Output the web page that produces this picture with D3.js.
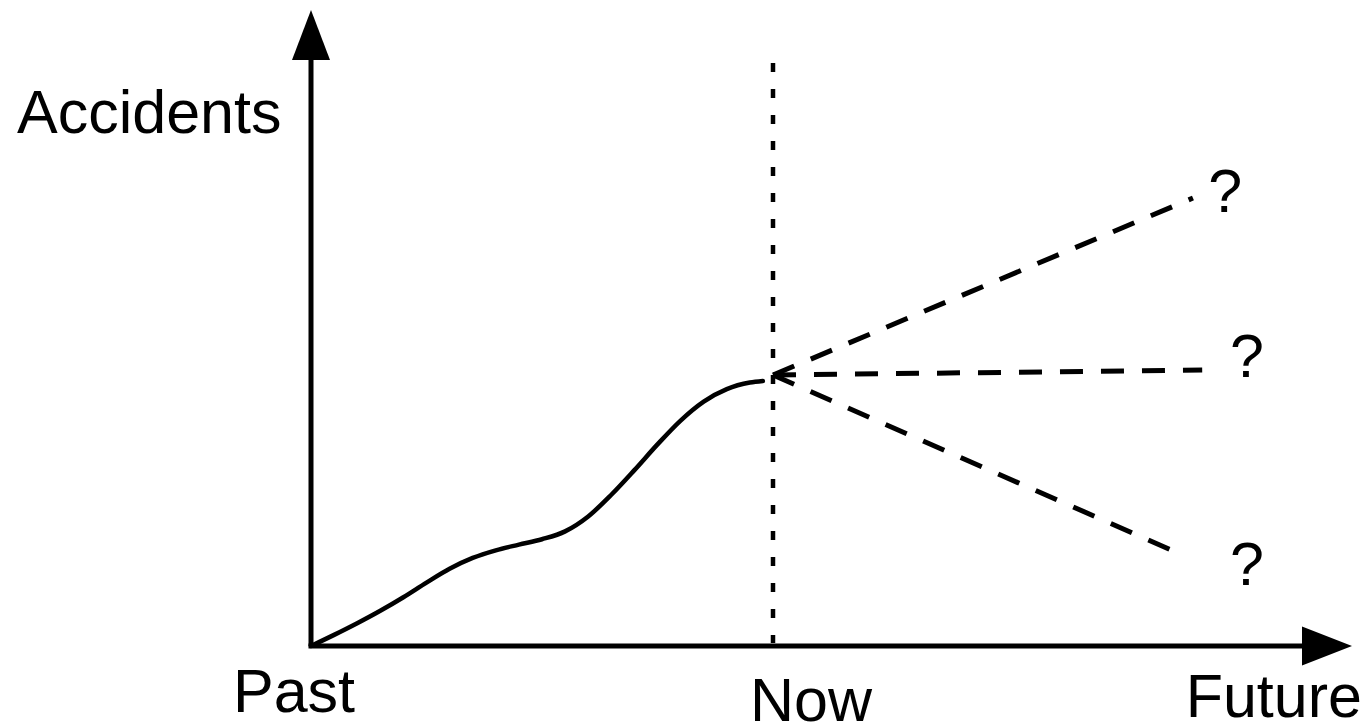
<!DOCTYPE html>
<html>
<head>
<meta charset="utf-8">
<script src="https://cdn.jsdelivr.net/npm/d3@7"></script>
<style>
  html, body { margin: 0; padding: 0; background: #fff; }
  svg { display: block; }
  text { font-family: "Liberation Sans", Arial, Helvetica, sans-serif; fill: #000; }
</style>
</head>
<body>
<div id="chart"></div>
<script>
const width = 1368;
const height = 728;

// past curve (time 0 = past, 100 = now; accidents 100 = level now)
const pastTime = [0, 5, 10, 15, 20, 25, 30, 35, 40, 45, 50, 55, 60, 65, 70, 75, 80, 85, 90, 95, 97.8];
const pastAccidents = [0, 4.1, 8.4, 13.0, 18.0, 23.4, 28.5, 32.5, 35.3, 37.4, 39.4, 42.3, 47.8, 55.8, 64.9, 74.4, 83.2, 90.2, 94.8, 97.2, 97.8];

// where the three futures go
const nowTime = 100;
const nowAccidents = 100;
const futureTime = [190.9, 192.9, 187.7];
const futureAccidents = [165.3, 101.8, 34.3];
const qTime = [194.2, 198.9, 198.9];
const qAccidents = [160.1, 99.3, 22.5];

const tickLabels = ["Past", "Now", "Future"];
const yLabel = "Accidents";

const x = d3.scaleLinear().domain([0, 100]).range([311, 773]);
const y = d3.scaleLinear().domain([0, 100]).range([646, 375]);

const svg = d3
  .select("#chart")
  .append("svg")
  .attr("width", width)
  .attr("height", height);

// axes
svg
  .append("line")
  .attr("x1", x(0))
  .attr("y1", y(0))
  .attr("x2", x(0))
  .attr("y2", 58)
  .attr("stroke", "#000")
  .attr("stroke-width", 5);

svg
  .append("line")
  .attr("x1", x(0) - 2.5)
  .attr("y1", y(0))
  .attr("x2", 1304)
  .attr("y2", y(0))
  .attr("stroke", "#000")
  .attr("stroke-width", 5);

// arrow heads
svg
  .append("path")
  .attr("d", `M${x(0)},10 L${x(0) + 19},60 L${x(0) - 19},60 Z`)
  .attr("fill", "#000");

svg
  .append("path")
  .attr("d", `M1352,${y(0)} L1302,${y(0) - 19.5} L1302,${y(0) + 19.5} Z`)
  .attr("fill", "#000");

// now line
svg
  .append("line")
  .attr("x1", x(nowTime))
  .attr("y1", 63)
  .attr("x2", x(nowTime))
  .attr("y2", y(0) - 3)
  .attr("stroke", "#000")
  .attr("stroke-width", 4.5)
  .attr("stroke-dasharray", "9,17");

// past curve
const line = d3
  .line()
  .x((d) => x(d[0]))
  .y((d) => y(d[1]))
  .curve(d3.curveMonotoneX);

svg
  .append("path")
  .attr("d", line(pastTime.map((t, i) => [t, pastAccidents[i]])))
  .attr("fill", "none")
  .attr("stroke", "#000")
  .attr("stroke-width", 4.5)
  .attr("stroke-linecap", "round");

// future scenarios
futureTime.forEach((t, i) => {
  svg
    .append("line")
    .attr("x1", x(nowTime))
    .attr("y1", y(nowAccidents))
    .attr("x2", x(t))
    .attr("y2", y(futureAccidents[i]))
    .attr("stroke", "#000")
    .attr("stroke-width", 5)
    .attr("stroke-dasharray", "23,18");

  svg
    .append("text")
    .attr("x", x(qTime[i]))
    .attr("y", y(qAccidents[i]))
    .attr("font-size", 61)
    .text("?");
});

// labels
svg
  .append("text")
  .attr("x", 17)
  .attr("y", 133)
  .attr("font-size", 61)
  .text(yLabel);

svg
  .append("text")
  .attr("x", x(0) - 78)
  .attr("y", 712)
  .attr("font-size", 61)
  .text(tickLabels[0]);

svg
  .append("text")
  .attr("x", x(nowTime) - 23)
  .attr("y", 721)
  .attr("font-size", 61)
  .text(tickLabels[1]);

svg
  .append("text")
  .attr("x", 1362)
  .attr("y", 717)
  .attr("font-size", 61)
  .attr("text-anchor", "end")
  .text(tickLabels[2]);
</script>
</body>
</html>
